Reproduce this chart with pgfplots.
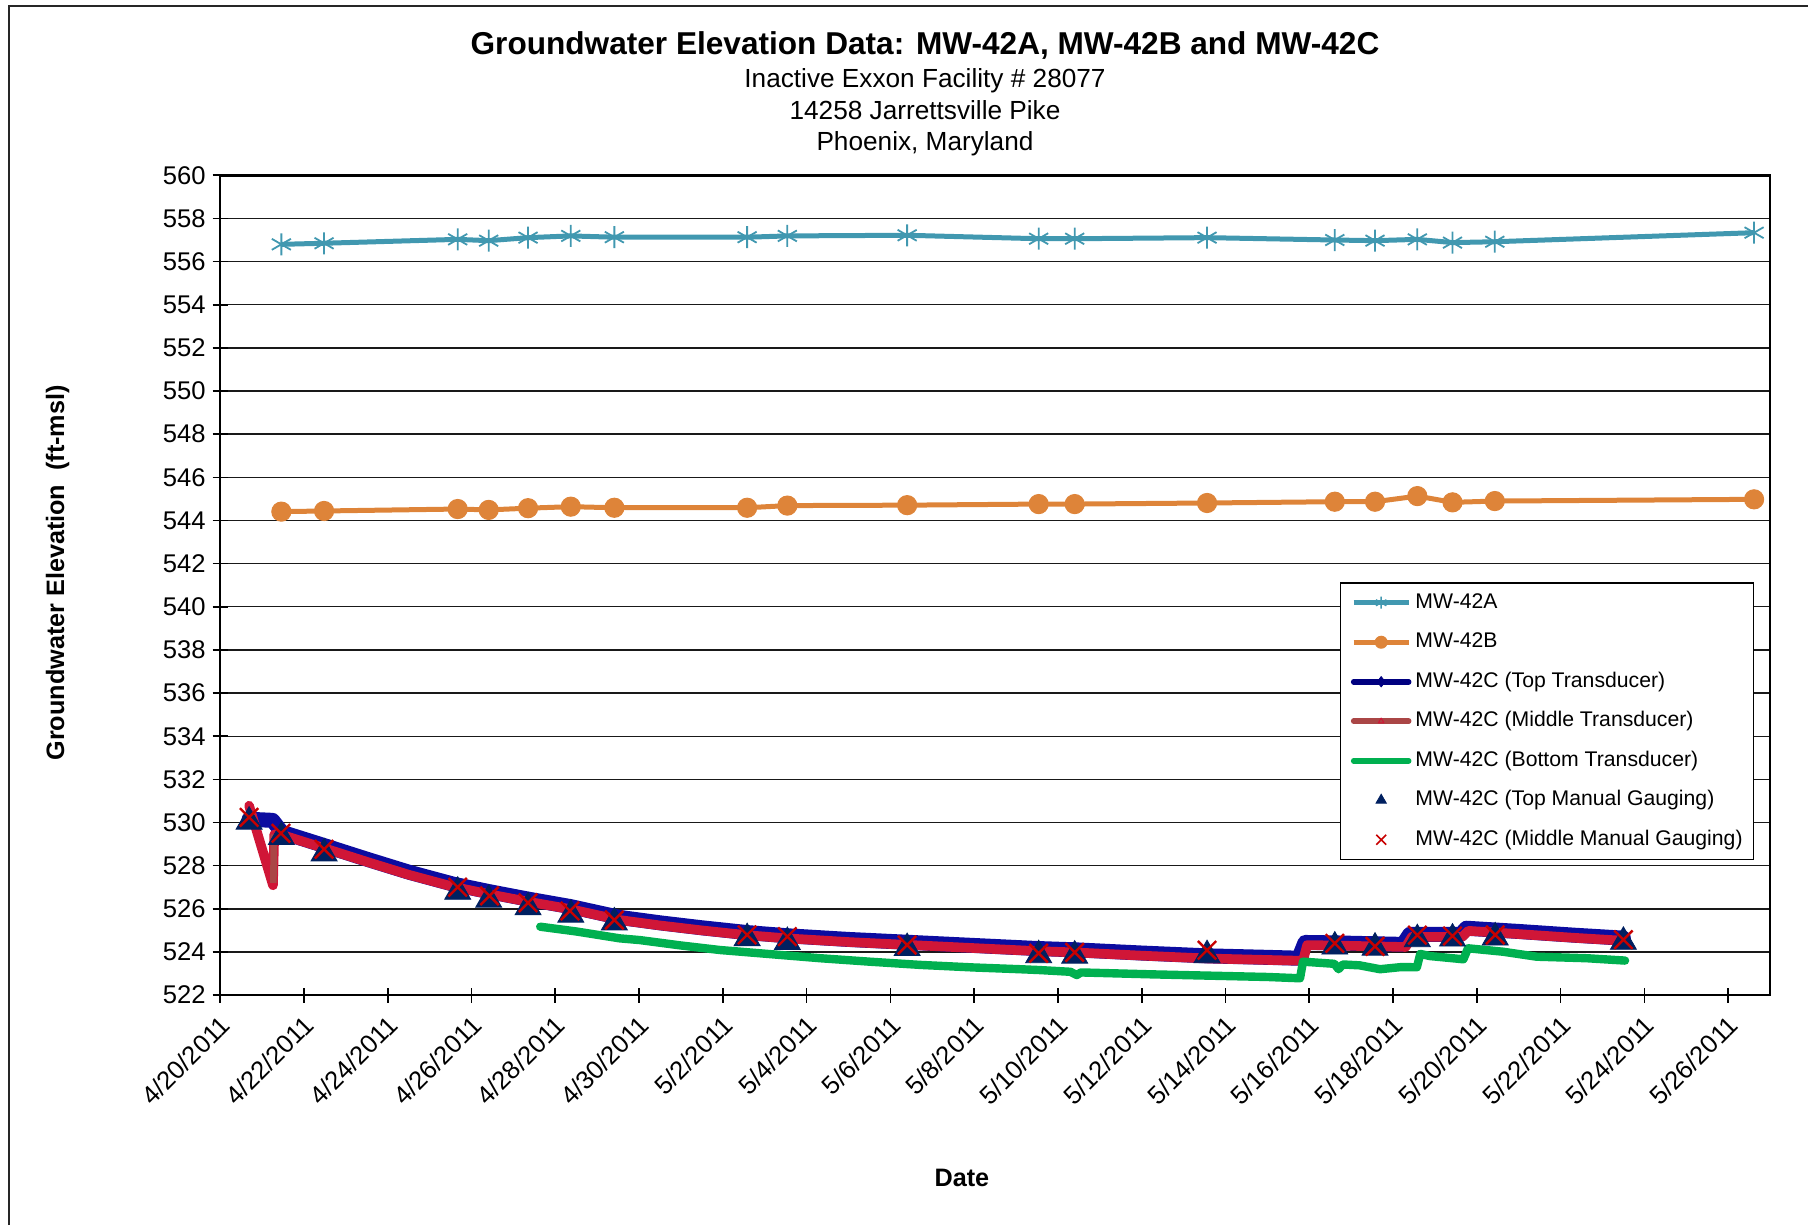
\documentclass[border=0pt]{standalone}
\usepackage{fontspec}
\setmainfont{Liberation Sans}
\usepackage{pgfplots}
\usepackage{pgfplotstable}
\pgfplotsset{compat=1.18}
\definecolor{cA}{RGB}{65,152,176}
\definecolor{cB}{RGB}{222,132,57}
\definecolor{cTop}{RGB}{12,12,160}
\definecolor{cTopL}{RGB}{0,0,128}
\definecolor{cMid}{RGB}{208,22,55}
\definecolor{cMidL}{RGB}{170,70,70}
\definecolor{cBot}{RGB}{0,176,80}
\definecolor{cTri}{RGB}{0,32,96}
\definecolor{cX}{RGB}{200,0,0}

\pgfplotstableread{
day elev
1.46 556.80
2.48 556.85
5.67 557.03
6.41 556.97
7.35 557.11
8.37 557.19
9.41 557.13
12.58 557.13
13.54 557.19
16.40 557.22
19.54 557.06
20.40 557.06
23.56 557.11
26.61 557.00
27.57 556.97
28.58 557.03
29.42 556.88
30.43 556.92
36.62 557.34
}\tblA
\pgfplotstableread{
day elev
1.46 544.41
2.48 544.44
5.67 544.53
6.41 544.49
7.35 544.57
8.37 544.64
9.41 544.59
12.58 544.59
13.54 544.69
16.40 544.71
19.54 544.76
20.40 544.76
23.56 544.81
26.61 544.87
27.57 544.87
28.58 545.13
29.42 544.84
30.43 544.90
36.62 544.98
}\tblB
\pgfplotstableread{
day elev
0.69 530.15
1.25 530.10
1.47 529.55
2.50 528.92
3.50 528.30
4.50 527.70
5.57 527.14
6.41 526.80
7.35 526.45
8.37 526.10
9.54 525.60
10.50 525.35
11.50 525.12
12.57 524.90
13.54 524.75
15.00 524.58
16.40 524.45
18.00 524.30
19.50 524.16
20.40 524.10
22.00 523.95
23.55 523.82
25.00 523.75
25.75 523.71
25.90 524.44
26.60 524.42
28.24 524.35
28.40 524.82
29.62 524.82
29.75 525.10
31.00 524.95
32.30 524.78
33.50 524.64
}\tblTop
\pgfplotstableread{
day elev
0.69 530.78
1.26 527.09
1.29 529.45
1.47 529.43
2.50 528.80
3.50 528.18
4.50 527.58
5.57 527.02
6.41 526.68
7.35 526.33
8.37 525.98
9.54 525.48
10.50 525.23
11.50 525.00
12.57 524.78
13.54 524.63
15.00 524.46
16.40 524.33
18.00 524.18
19.50 524.04
20.40 523.98
22.00 523.83
23.55 523.70
25.00 523.63
25.85 523.59
25.95 524.32
26.60 524.30
28.30 524.23
28.45 524.70
29.65 524.70
29.80 524.98
31.00 524.83
32.30 524.66
33.50 524.52
}\tblMid
\pgfplotstableread{
day elev
1.27 527.20
1.28 529.45
}\tblMidGap
\pgfplotstableread{
day elev
7.64 525.17
8.50 524.95
9.54 524.63
10.02 524.55
11.00 524.30
11.93 524.09
13.00 523.92
14.32 523.71
15.50 523.55
16.71 523.40
18.00 523.28
19.09 523.20
19.57 523.16
20.30 523.08
20.45 522.93
20.55 523.05
22.28 522.96
23.87 522.89
25.00 522.84
25.78 522.78
25.85 523.55
26.60 523.45
26.70 523.20
26.80 523.42
27.20 523.38
27.69 523.20
28.20 523.30
28.57 523.29
28.65 523.91
28.88 523.81
29.68 523.66
29.79 524.17
30.63 524.01
31.43 523.78
32.62 523.71
33.54 523.60
}\tblBot
\pgfplotstableread{
day elev
0.69 530.04
1.46 529.33
2.48 528.57
5.67 526.79
6.41 526.42
7.35 526.07
8.37 525.73
9.41 525.37
12.58 524.64
13.54 524.46
16.40 524.18
19.54 523.85
20.40 523.83
23.56 523.85
26.61 524.25
27.57 524.20
28.58 524.59
29.42 524.62
30.44 524.67
33.50 524.47
}\tblTri
\pgfplotstableread{
day elev
0.69 530.24
1.45 529.50
2.48 528.76
5.67 527.00
6.43 526.60
7.35 526.28
8.35 525.90
9.41 525.48
12.58 524.79
13.54 524.71
16.40 524.32
19.54 523.94
20.40 523.98
23.56 524.08
26.61 524.40
27.57 524.26
28.58 524.78
29.42 524.74
30.44 524.79
33.50 524.57
}\tblX

\begin{document}
\begin{tikzpicture}
\useasboundingbox (-110.1pt,-114.95pt) rectangle (793.9pt,497.55pt);
\draw[line width=0.8pt, black!85] (-105.6pt,-114.95pt) -- (-105.6pt,494.55pt) -- (793.9pt,494.55pt);
\begin{axis}[
  scale only axis, width=774.9pt, height=409.9pt,
  xmin=0, xmax=37, ymin=522, ymax=560,
  xtick={0,2,...,36},
  xticklabels={4/20/2011,4/22/2011,4/24/2011,4/26/2011,4/28/2011,4/30/2011,5/2/2011,5/4/2011,5/6/2011,5/8/2011,5/10/2011,5/12/2011,5/14/2011,5/16/2011,5/18/2011,5/20/2011,5/22/2011,5/24/2011,5/26/2011},
  ytick={522,524,...,560},
  ymajorgrids, grid style={black!90, line width=0.7pt},
  axis line style={line width=1.3pt},
  tick style={black, line width=0.8pt},
  tick align=center, major tick length=7.5pt,
  tickpos=left,
  /pgf/number format/assume math mode=true,
  ticklabel style={font=\fontsize{12.8}{15}\selectfont},
  xticklabel style={rotate=45, anchor=north east, xshift=-1pt},
  xlabel={Date},
  ylabel={Groundwater Elevation\ \ (ft-msl)},
  every axis x label/.style={at={(axis description cs:0.4786,-0.2231)}, anchor=center, font=\bfseries\fontsize{12.6}{15}\selectfont},
  every axis y label/.style={at={(axis description cs:-0.1049,0.515)}, rotate=90, anchor=center, font=\bfseries\fontsize{12.6}{15}\selectfont},
  legend style={at={(rel axis cs:0.9895,0.5035)}, anchor=north east, draw=black, line width=0.6pt, fill=white,
    font=\fontsize{10.6}{12}\selectfont, inner xsep=5.25pt, inner ysep=5pt, row sep=9.95pt, column sep=2pt,
    nodes={inner sep=0pt, text height=7.6pt, text depth=2.2pt}},
  legend cell align=left,
]
\addplot[cA, line width=2.5pt, mark=asterisk, mark size=5.5pt, mark options={line width=0.9pt, cA},
  legend image code/.code={\draw[cA, line width=2.5pt] (0pt,0pt) -- (27.5pt,0pt);
    \draw[mark=asterisk, mark size=3pt, mark options={line width=0.7pt, cA}] plot coordinates {(13.75pt,0pt)};}]
  table[x=day,y=elev]{\tblA};
\addlegendentry{MW-42A}
\addplot[cB, line width=2.5pt, mark=*, mark size=4.8pt, mark options={cB, fill=cB, line width=0.5pt},
  legend image code/.code={\draw[cB, line width=2.5pt] (0pt,0pt) -- (27.5pt,0pt);
    \draw[mark=*, mark size=3pt, mark options={cB, fill=cB, line width=0.5pt}] plot coordinates {(13.75pt,0pt)};}]
  table[x=day,y=elev]{\tblB};
\addlegendentry{MW-42B}
\addplot[cTop, line width=7.5pt, line cap=round, line join=round, no marks,
  legend image code/.code={\draw[cTopL, line width=2.8pt, line cap=round] (0pt,0pt) -- (27.5pt,0pt);
    \draw[mark=diamond*, mark size=2.6pt, mark options={cTopL, fill=cTopL, line width=0.4pt}] plot coordinates {(13.75pt,0pt)};}]
  table[x=day,y=elev]{\tblTop};
\addlegendentry{MW-42C (Top Transducer)}
\addplot[cMid, line width=4.8pt, line cap=round, line join=round, no marks,
  legend image code/.code={\draw[cMidL, line width=2.8pt, line cap=round] (0pt,0pt) -- (27.5pt,0pt);
    \draw[mark=triangle, mark size=1.6pt, mark options={cMid, line width=0.5pt}] plot coordinates {(13.75pt,0pt)};}]
  table[x=day,y=elev]{\tblMid};
\addlegendentry{MW-42C (Middle Transducer)}
\addplot[cMidL, line width=3.3pt, forget plot, no marks] table[x=day,y=elev]{\tblMidGap};
\addplot[cBot, line width=4.2pt, line cap=round, line join=round, no marks,
  legend image code/.code={\draw[cBot, line width=2.8pt, line cap=round] (0pt,0pt) -- (27.5pt,0pt);}]
  table[x=day,y=elev]{\tblBot};
\addlegendentry{MW-42C (Bottom Transducer)}
\addplot[only marks, mark=triangle*, mark size=7.5pt, mark options={cTri, fill=cTri, line width=0.4pt},
  legend image code/.code={\draw[mark=triangle*, mark size=3pt, mark options={cTri, fill=cTri, line width=0.4pt}] plot coordinates {(13.75pt,0pt)};}]
  table[x=day,y=elev]{\tblTri};
\addlegendentry{MW-42C (Top Manual Gauging)}
\addplot[only marks, mark=x, mark size=6.5pt, mark options={cX, line width=1.2pt},
  legend image code/.code={\draw[mark=x, mark size=3.5pt, mark options={cX, line width=0.8pt}] plot coordinates {(13.75pt,0pt)};}]
  table[x=day,y=elev]{\tblX};
\addlegendentry{MW-42C (Middle Manual Gauging)}
\end{axis}
\node[anchor=base, font=\bfseries\fontsize{15.8}{18}\selectfont] at (352.4pt,470.05pt) {Groundwater Elevation Data: MW-42A, MW-42B and MW-42C};
\node[anchor=base, font=\fontsize{13.1}{15}\selectfont] at (352.4pt,453.9pt) {Inactive Exxon Facility \# 28077};
\node[anchor=base, font=\fontsize{13.1}{15}\selectfont] at (352.4pt,437.75pt) {14258 Jarrettsville Pike};
\node[anchor=base, font=\fontsize{13.1}{15}\selectfont] at (352.4pt,422.4pt) {Phoenix, Maryland};
\end{tikzpicture}
\end{document}
